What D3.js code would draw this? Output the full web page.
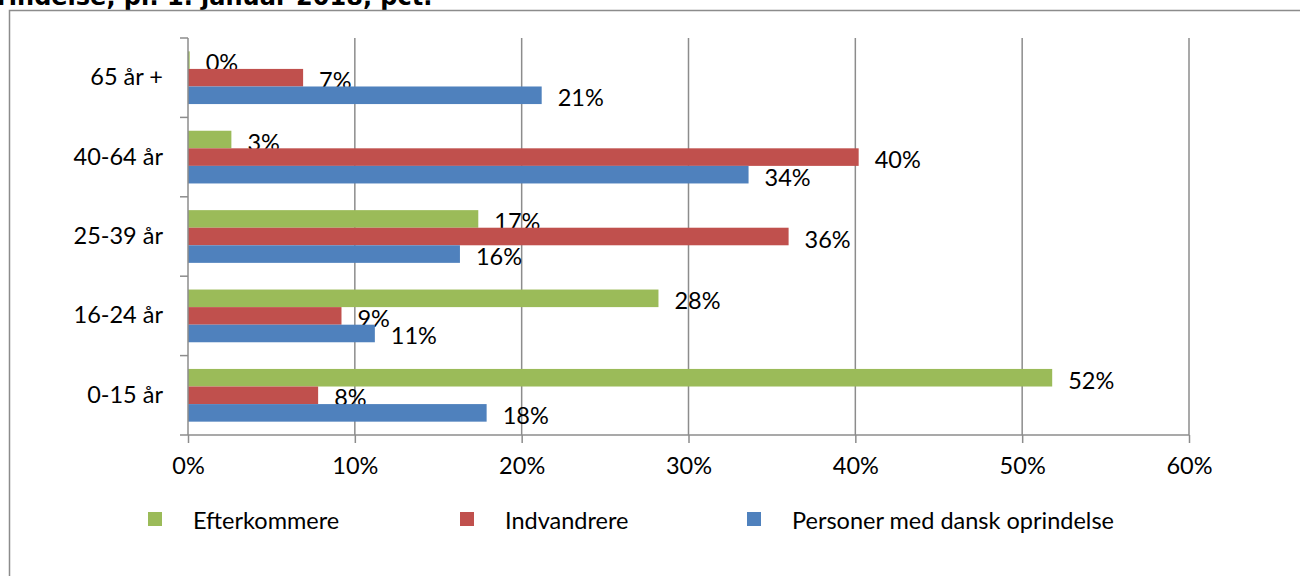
<!DOCTYPE html>
<html>
<head>
<meta charset="utf-8">
<script src="https://cdn.jsdelivr.net/npm/d3@7"></script>
<style>
  body { margin: 0; background: #fff; overflow: hidden; }
  svg text { font-family: Lato, "Open Sans", sans-serif; fill: #000; }
</style>
</head>
<body>
<div id="vizDiv"></div>
<script>
var width = 1300
var height = 576

// data (per cent)
var categories = ["65 år +", "40-64 år", "25-39 år", "16-24 år", "0-15 år"]
var seriesNames = ["Efterkommere", "Indvandrere", "Personer med dansk oprindelse"]
var efterkommere = [0.1, 2.6, 17.4, 28.2, 51.8]
var indvandrere = [6.9, 40.2, 36.0, 9.2, 7.8]
var danskOprindelse = [21.2, 33.6, 16.3, 11.2, 17.9]
var labelValues = {
    "Efterkommere": [0, 3, 17, 28, 52],
    "Indvandrere": [7, 40, 36, 9, 8],
    "Personer med dansk oprindelse": [21, 34, 16, 11, 18]
}
var xTicks = [0, 10, 20, 30, 40, 50, 60]

var colors = ["#9BBB59", "#C0504D", "#4F81BD"]
var seriesValues = [efterkommere, indvandrere, danskOprindelse]

plotLeft = 188
plotRight = 1189
plotTop = 38
plotBottom = 435
fontSize = "23.5px"

var svg = d3.select("#vizDiv")
    .append("svg")
    .attr("width", width)
    .attr("height", height)

// title, cut off at the top of the picture
svg.append("text")
    .attr("x", -3)
    .attr("y", 5)
    .style("font-family", "'DejaVu Sans', Verdana, sans-serif")
    .style("font-weight", "bold")
    .style("font-size", "24px")
    .text("rindelse, pr. 1. januar 2018, pct.")

// chart frame
svg.append("rect")
    .attr("x", 9.5)
    .attr("y", 10.5)
    .attr("width", 1400)
    .attr("height", 700)
    .attr("fill", "none")
    .attr("stroke", "#8c8c8c")
    .attr("stroke-width", 1.5)

var x = d3.scaleLinear().domain([0, 60]).range([plotLeft, plotRight])
var y = d3.scaleBand().domain(categories).range([plotTop, plotBottom]).padding(0)
var inner = d3.scaleBand().domain(seriesNames)
    .range([y.bandwidth() * 0.168, y.bandwidth() * 0.832])

// gridlines
svg.append("g")
    .selectAll("line")
    .data(xTicks.slice(1))
    .enter()
    .append("line")
    .attr("x1", d => x(d))
    .attr("x2", d => x(d))
    .attr("y1", plotTop)
    .attr("y2", plotBottom)
    .attr("stroke", "#8c8c8c")
    .attr("stroke-width", 1.5)

// bars
seriesNames.forEach(function (name, s) {
    svg.append("g")
        .selectAll("rect")
        .data(seriesValues[s])
        .enter()
        .append("rect")
        .attr("x", x(0))
        .attr("y", (d, i) => y(categories[i]) + inner(name))
        .attr("width", d => x(d) - x(0))
        .attr("height", inner.bandwidth())
        .attr("fill", colors[s])

    svg.append("g")
        .selectAll("text")
        .data(seriesValues[s])
        .enter()
        .append("text")
        .attr("x", d => x(d) + 16)
        .attr("y", (d, i) => y(categories[i]) + inner(name) + inner.bandwidth() / 2 + 2)
        .attr("dominant-baseline", "central")
        .style("font-size", fontSize)
        .text((d, i) => labelValues[name][i] + "%")
})

// x axis
var xAxis = svg.append("g")
    .attr("transform", "translate(0," + plotBottom + ")")
    .call(d3.axisBottom(x).tickValues(xTicks).tickSize(8).tickPadding(14)
        .tickFormat(d => d + "%"))
xAxis.select(".domain").attr("d", "M" + (plotLeft - 8) + ",0H" + plotRight)
xAxis.selectAll("line, path").attr("stroke", "#8c8c8c").attr("stroke-width", 1.5)
xAxis.selectAll("text").style("font-size", fontSize)

// y axis
var yAxis = svg.append("g")
    .attr("transform", "translate(" + plotLeft + ",0)")
    .call(d3.axisLeft(y).tickSize(0).tickPadding(25))
yAxis.select(".domain").attr("d", "M0," + plotTop + "V" + plotBottom)
yAxis.selectAll("line, path").attr("stroke", "#8c8c8c").attr("stroke-width", 1.5)
yAxis.selectAll("text").style("font-size", fontSize)

yAxis.selectAll(".boundary")
    .data(categories)
    .enter()
    .append("line")
    .attr("x1", -8)
    .attr("x2", 0)
    .attr("y1", d => y(d))
    .attr("y2", d => y(d))
    .attr("stroke", "#8c8c8c")
    .attr("stroke-width", 1.5)

// legend
var legendX = [148, 460, 747]
var legend = svg.append("g")
    .selectAll("g")
    .data(seriesNames)
    .enter()
    .append("g")
    .attr("transform", (d, i) => "translate(" + legendX[i] + ",519)")
legend.append("rect")
    .attr("x", 0)
    .attr("y", -7)
    .attr("width", 14)
    .attr("height", 14)
    .attr("fill", (d, i) => colors[i])
legend.append("text")
    .attr("x", 45)
    .attr("y", 1)
    .attr("dominant-baseline", "central")
    .style("font-size", fontSize)
    .text(d => d)
</script>
</body>
</html>
